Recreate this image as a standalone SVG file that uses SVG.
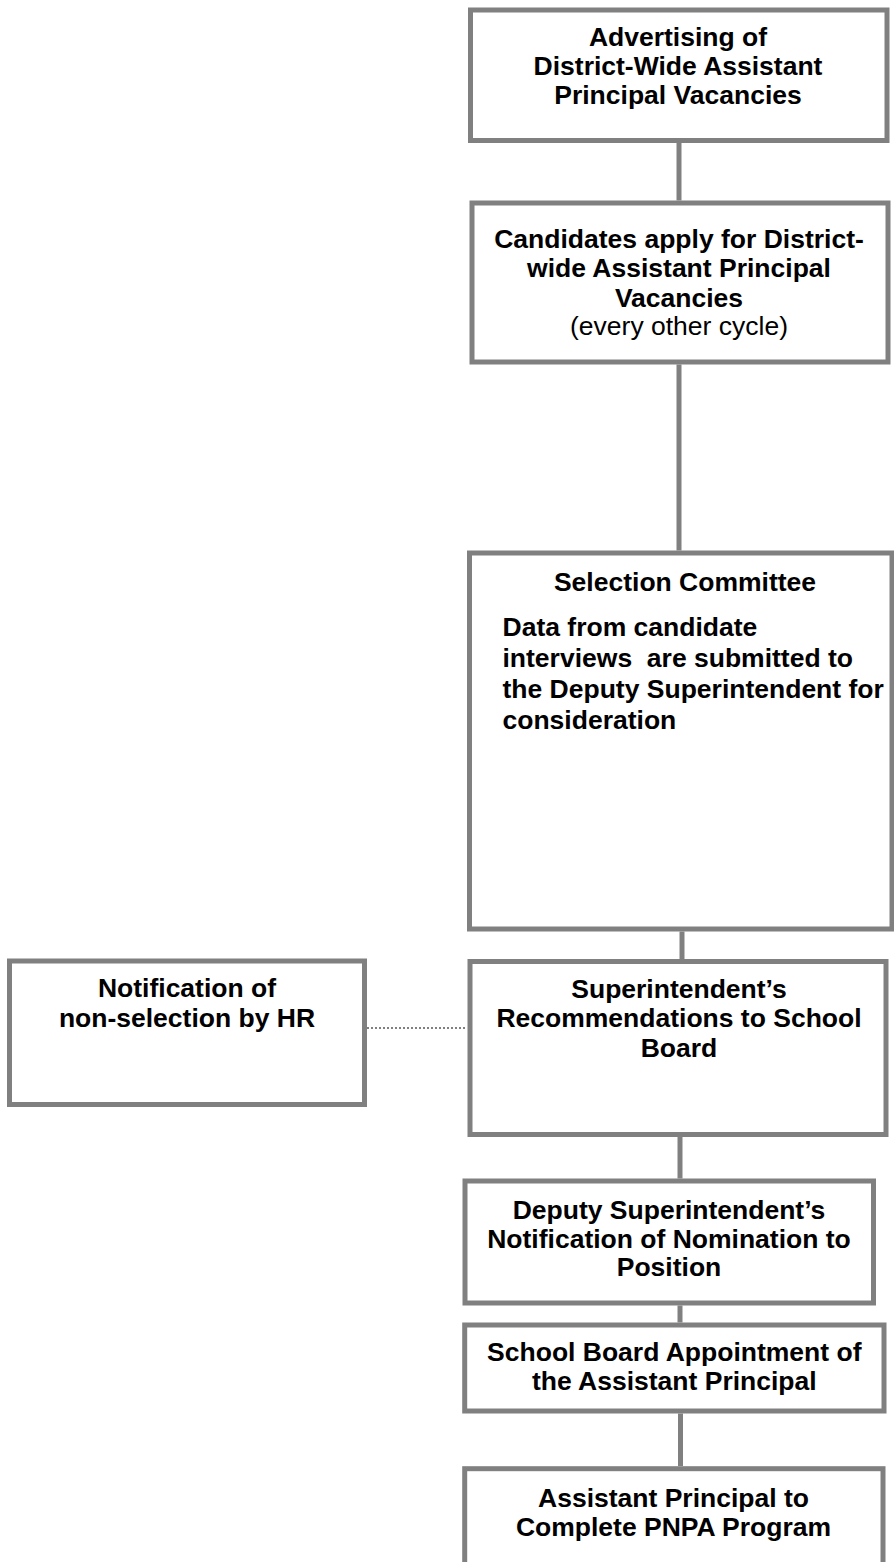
<svg xmlns="http://www.w3.org/2000/svg" width="894" height="1562" viewBox="0 0 894 1562">
<style>
.box{fill:#ffffff;stroke:#808080;stroke-width:5}
.t{font-family:"Liberation Sans",Arial,sans-serif;font-size:26.5px;font-weight:bold;fill:#000000;text-anchor:middle}
.n{font-weight:normal}
.l{text-anchor:start}
.c{stroke:#808080;stroke-width:5;fill:none}
.d{stroke:#808080;stroke-width:2;stroke-dasharray:2 2;fill:none}
</style>
<rect width="894" height="1562" fill="#ffffff"/>
<g id="connectors">
<line class="c" x1="679" y1="143" x2="679" y2="200.5"/>
<line class="c" x1="679" y1="364.5" x2="679" y2="550.5"/>
<line class="c" x1="682" y1="931.5" x2="682" y2="959"/>
<line class="c" x1="680" y1="1137" x2="680" y2="1178.5"/>
<line class="c" x1="680" y1="1305.5" x2="680" y2="1322.5"/>
<line class="c" x1="680.5" y1="1413.5" x2="680.5" y2="1466"/>
<line class="d" x1="367" y1="1028" x2="467" y2="1028"/>
</g>
<g id="n1">
<rect class="box" x="470.5" y="10" width="416.5" height="130.5"/>
<text class="t" x="678" y="46">Advertising of</text>
<text class="t" x="678" y="75">District-Wide Assistant</text>
<text class="t" x="678" y="103.5">Principal Vacancies</text>
</g>
<g id="n2">
<rect class="box" x="472" y="203" width="416" height="159"/>
<text class="t" x="679" y="248">Candidates apply for District-</text>
<text class="t" x="679" y="277">wide Assistant Principal</text>
<text class="t" x="679" y="306.5">Vacancies</text>
<text class="t n" x="679" y="335">(every other cycle)</text>
</g>
<g id="n3">
<rect class="box" x="469.5" y="553" width="422.5" height="376"/>
<text class="t" x="685" y="590.5">Selection Committee</text>
<text class="t l" x="502.5" y="636">Data from candidate</text>
<text class="t l" x="502.5" y="667" xml:space="preserve">interviews  are submitted to</text>
<text class="t l" x="502.5" y="698">the Deputy Superintendent for</text>
<text class="t l" x="502.5" y="728.5">consideration</text>
</g>
<g id="n0">
<rect class="box" x="9.5" y="961" width="355" height="143.5"/>
<text class="t" x="187" y="997">Notification of</text>
<text class="t" x="187" y="1026.5">non-selection by HR</text>
</g>
<g id="n4">
<rect class="box" x="470" y="961.5" width="416" height="173"/>
<text class="t" x="679" y="997.5">Superintendent’s</text>
<text class="t" x="679" y="1027">Recommendations to School</text>
<text class="t" x="679" y="1056.5">Board</text>
</g>
<g id="n5">
<rect class="box" x="465" y="1181" width="408.5" height="122"/>
<text class="t" x="669" y="1218.5">Deputy Superintendent’s</text>
<text class="t" x="669" y="1247.5">Notification of Nomination to</text>
<text class="t" x="669" y="1276">Position</text>
</g>
<g id="n6">
<rect class="box" x="464.7" y="1325" width="419.3" height="86"/>
<text class="t" x="674.3" y="1360.5">School Board Appointment of</text>
<text class="t" x="674.3" y="1389.5">the Assistant Principal</text>
</g>
<g id="n7">
<rect class="box" x="464.7" y="1468.7" width="418.3" height="110"/>
<text class="t" x="673.5" y="1506.5">Assistant Principal to</text>
<text class="t" x="673.5" y="1536">Complete PNPA Program</text>
</g>
</svg>
